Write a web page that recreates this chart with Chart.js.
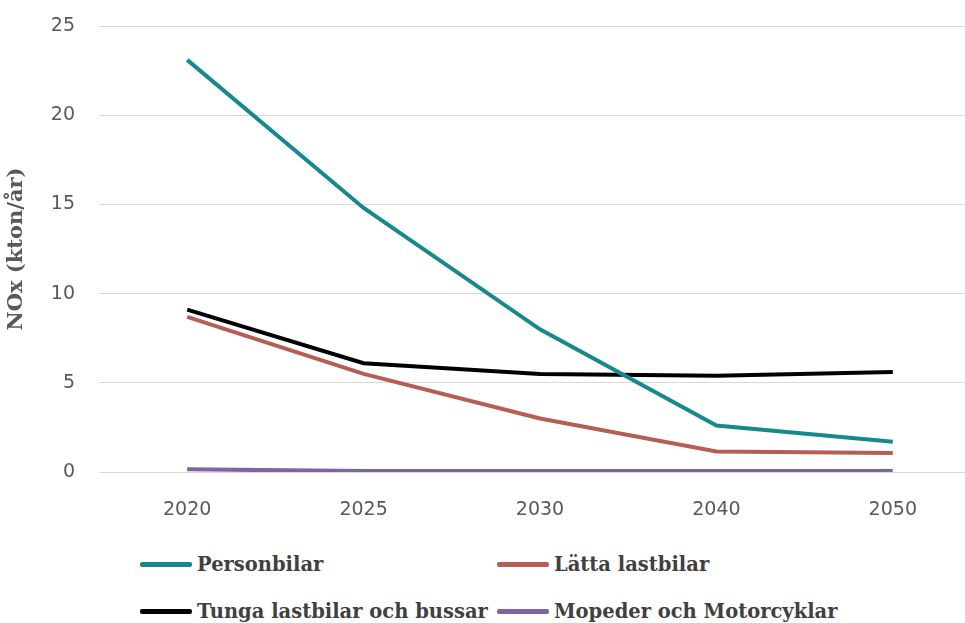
<!DOCTYPE html>
<html>
<head>
<meta charset="utf-8">
<script src="https://cdn.jsdelivr.net/npm/chart.js@4.4.0/dist/chart.umd.min.js"></script>
<style>
    body { margin: 0; background: #fff; overflow: hidden; width: 965px; height: 623px; position: relative; }
    #wrap { position: absolute; left: 0; top: 0; width: 981px; height: 520px; }
    .legend-item { position: absolute; display: flex; align-items: center; white-space: nowrap;
        font-family: 'DejaVu Serif', serif; font-weight: bold; font-size: 19.5px; color: #404040; }
    .legend-swatch { width: 52px; height: 5px; border-radius: 2px; margin-right: 5px; }
</style>
</head>
<body>
<div id="wrap"><canvas id="noxChart" width="981" height="520"></canvas></div>
<div id="legend"></div>
<script>
const years = ['2020', '2025', '2030', '2040', '2050'];
const personbilar = [23.1, 14.8, 8.0, 2.6, 1.7];
const lattaLastbilar = [8.7, 5.5, 3.0, 1.15, 1.07];
const tungaLastbilar = [9.1, 6.1, 5.5, 5.4, 5.6];
const mopeder = [0.15, 0.05, 0.05, 0.05, 0.05];
const yTicks = [0, 5, 10, 15, 20, 25];

const seriesNames = ['Personbilar', 'Lätta lastbilar', 'Tunga lastbilar och bussar', 'Mopeder och Motorcyklar'];
const seriesColors = ['#17898e', '#b65d55', '#000000', '#8064a2'];

function makeDataset(i, data) {
    return {
        label: seriesNames[i],
        data: data,
        borderColor: seriesColors[i],
        backgroundColor: seriesColors[i],
        borderWidth: 4,
        pointRadius: 0,
        tension: 0,
        fill: false
    };
}

const chart = new Chart(document.getElementById('noxChart'), {
    type: 'line',
    data: {
        labels: years,
        datasets: [
            makeDataset(0, personbilar),
            makeDataset(1, lattaLastbilar),
            makeDataset(2, tungaLastbilar),
            makeDataset(3, mopeder)
        ]
    },
    options: {
        responsive: false,
        animation: false,
        devicePixelRatio: 1,
        layout: { padding: { top: 26, right: 0, bottom: 0, left: 0 } },
        plugins: {
            legend: { display: false },
            tooltip: { enabled: false }
        },
        scales: {
            x: {
                offset: true,
                grid: { display: false, drawTicks: false },
                border: { display: false },
                ticks: { color: '#595959', padding: 27, font: { family: 'DejaVu Sans', size: 19 } },
                afterFit: scale => { scale.height = 48; }
            },
            y: {
                min: 0,
                max: 25,
                afterBuildTicks: scale => { scale.ticks = yTicks.map(v => ({ value: v })); },
                grid: { color: '#d9d9d9', lineWidth: 1, drawTicks: false },
                border: { display: false },
                ticks: { color: '#595959', padding: 24, font: { family: 'DejaVu Sans', size: 19 } },
                title: {
                    display: true,
                    text: 'NOx (kton/år)',
                    color: '#595959',
                    font: { family: 'DejaVu Serif', size: 21, weight: 'bold' },
                    padding: { top: 4, bottom: 4 }
                },
                afterFit: scale => {
                    scale.width = 99;
                    // tick padding would otherwise push the plot area down
                    scale.paddingTop = 12;
                    scale.paddingBottom = 12;
                }
            }
        }
    }
});

// HTML legend in two columns, like the original
const legendCols = [140, 497];
const legendRows = [565, 612];
const legend = document.getElementById('legend');
chart.data.datasets.forEach((ds, i) => {
    const item = document.createElement('div');
    item.className = 'legend-item';
    item.style.left = legendCols[i % 2] + 'px';
    item.style.top = (legendRows[Math.floor(i / 2)] - 12) + 'px';
    item.innerHTML = `<span class="legend-swatch" style="background:${ds.borderColor}"></span><span>${ds.label}</span>`;
    legend.appendChild(item);
});
</script>
</body>
</html>
